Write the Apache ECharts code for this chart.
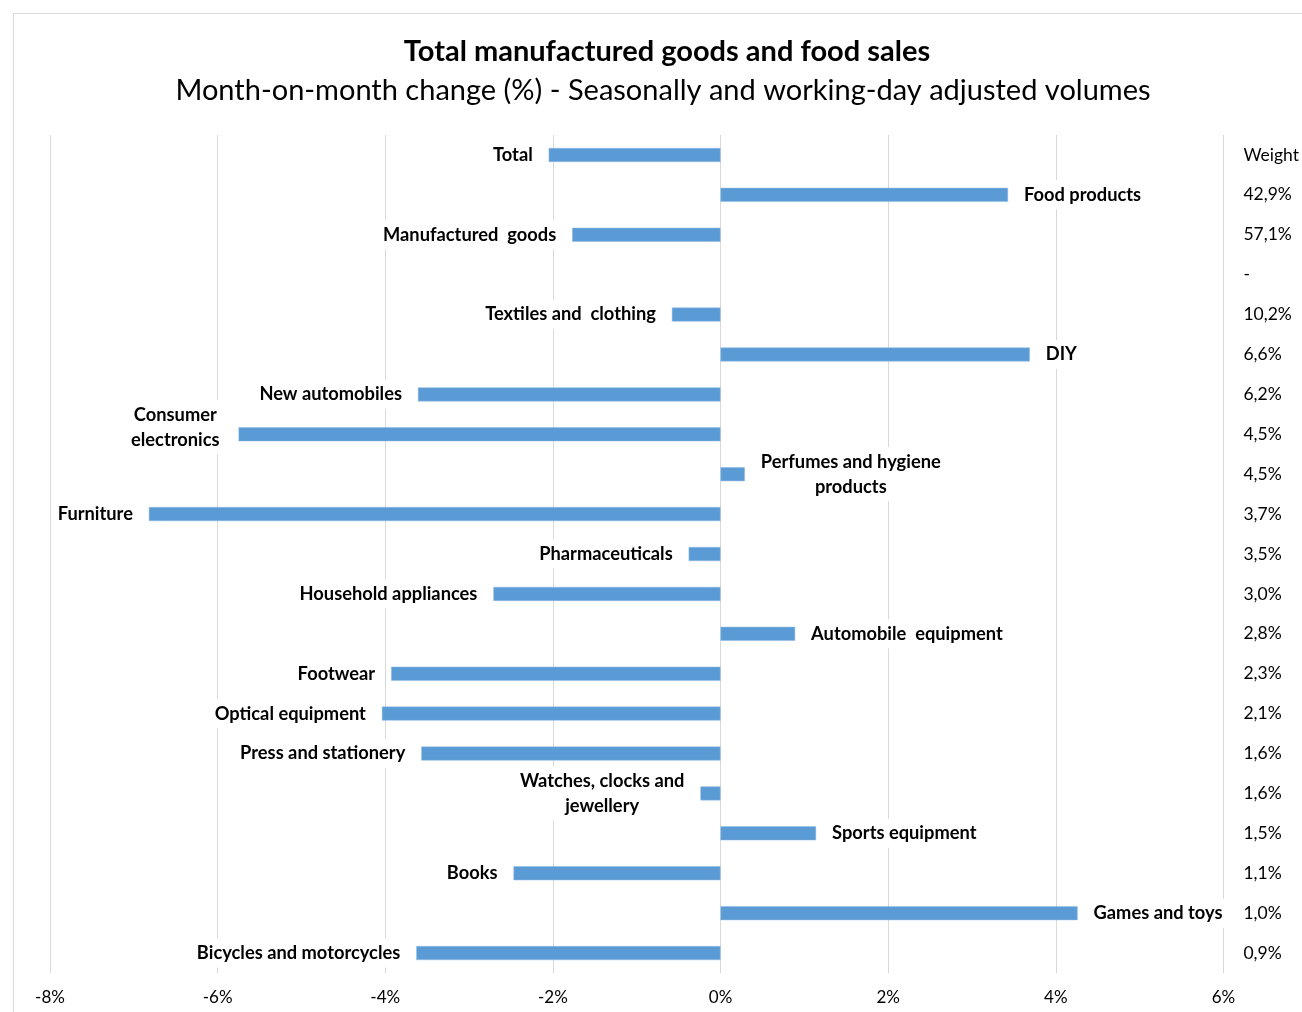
<!DOCTYPE html>
<html>
<head>
<meta charset="utf-8">
<script src="https://cdn.jsdelivr.net/npm/echarts@6/dist/echarts.min.js"></script>
<style>
  html, body { margin: 0; padding: 0; background: #fff; }
  #frame { position: absolute; left: 13px; top: 13px; width: 1400px; height: 1100px; border: 1px solid #d9d9d9; box-sizing: border-box; }
  #chart { position: absolute; left: 0; top: 0; width: 1302px; height: 1012px; }
</style>
</head>
<body>
<div id="frame"></div>
<div id="chart"></div>
<script>
// ---- data ----
const categories = [
  'Total', 'Food products', 'Manufactured goods', '', 'Textiles and clothing', 'DIY',
  'New automobiles', 'Consumer electronics', 'Perfumes and hygiene products', 'Furniture',
  'Pharmaceuticals', 'Household appliances', 'Automobile equipment', 'Footwear',
  'Optical equipment', 'Press and stationery', 'Watches, clocks and jewellery',
  'Sports equipment', 'Books', 'Games and toys', 'Bicycles and motorcycles'
];
const barLabels = [
  'Total', 'Food products', 'Manufactured  goods', '', 'Textiles and  clothing', 'DIY',
  'New automobiles', 'Consumer\nelectronics', 'Perfumes and hygiene\nproducts', 'Furniture',
  'Pharmaceuticals', 'Household appliances', 'Automobile  equipment', 'Footwear',
  'Optical equipment', 'Press and stationery', 'Watches, clocks and\njewellery',
  'Sports equipment', 'Books', 'Games and toys', 'Bicycles and motorcycles'
];
const changes = [
  -2.05, 3.43, -1.77, null, -0.58, 3.69,
  -3.61, -5.75, 0.29, -6.82,
  -0.38, -2.71, 0.89, -3.93,
  -4.04, -3.57, -0.24,
  1.14, -2.47, 4.26, -3.63
];
const weights = [
  'Weight', '42,9%', '57,1%', '-', '10,2%', '6,6%',
  '6,2%', '4,5%', '4,5%', '3,7%',
  '3,5%', '3,0%', '2,8%', '2,3%',
  '2,1%', '1,6%', '1,6%',
  '1,5%', '1,1%', '1,0%', '0,9%'
];
const xTicks = { min: -8, max: 6, interval: 2 };

// ---- chart ----
const FONT = 'Lato';
const chart = echarts.init(document.getElementById('chart'));

const seriesData = changes.map((v, i) => {
  const txt = barLabels[i];
  const lbl = {
    show: !!txt,
    position: v < 0 ? 'left' : 'right',
    formatter: txt.split('\n').map(l => '{m|' + l + '}').join('\n')
  };
  if (categories[i] === 'Consumer electronics') lbl.offset = [-3, -7];
  return { value: v, label: lbl };
});

chart.setOption({
  animation: false,
  backgroundColor: 'transparent',
  title: [
    {
      text: 'Total manufactured goods and food sales',
      left: 662, top: 30, textAlign: 'center',
      textStyle: { fontFamily: FONT, fontSize: 29, fontWeight: 'bold', color: '#000', lineHeight: 34 }
    },
    {
      text: 'Month-on-month change (%) - Seasonally and working-day adjusted volumes',
      left: 658, top: 69, textAlign: 'center',
      textStyle: { fontFamily: FONT, fontSize: 29, fontWeight: 'normal', color: '#000', lineHeight: 34 }
    }
  ],
  grid: { left: 50, right: 78, top: 135, bottom: 39, containLabel: false },
  xAxis: {
    type: 'value',
    min: xTicks.min, max: xTicks.max, interval: xTicks.interval,
    axisLine: { show: false },
    axisTick: { show: false },
    splitLine: { show: true, lineStyle: { color: '#d9d9d9', width: 1 } },
    axisLabel: { formatter: '{value}%', fontFamily: FONT, fontSize: 17, color: '#000', margin: 16 }
  },
  yAxis: [
    {
      type: 'category', inverse: true, data: categories,
      axisLine: { show: false }, axisTick: { show: false }, axisLabel: { show: false },
      splitLine: { show: false }
    },
    {
      type: 'category', inverse: true, data: weights, position: 'right',
      axisLine: { show: false }, axisTick: { show: false },
      axisLabel: { align: 'left', margin: 20, fontFamily: FONT, fontSize: 17.5, color: '#000' },
      splitLine: { show: false }
    }
  ],
  series: [
    {
      type: 'bar',
      yAxisIndex: 0,
      data: seriesData,
      barWidth: 14,
      itemStyle: { color: '#5b9bd5', borderColor: '#8fbbe3', borderWidth: 0.5 },
      label: {
        distance: 10,
        backgroundColor: '#fff',
        padding: [2, 6],
        lineHeight: 25,
        rich: {
          m: { align: 'center', fontFamily: FONT, fontSize: 18.3, fontWeight: 'bold', color: '#000', lineHeight: 25 }
        }
      }
    }
  ]
});
</script>
</body>
</html>
